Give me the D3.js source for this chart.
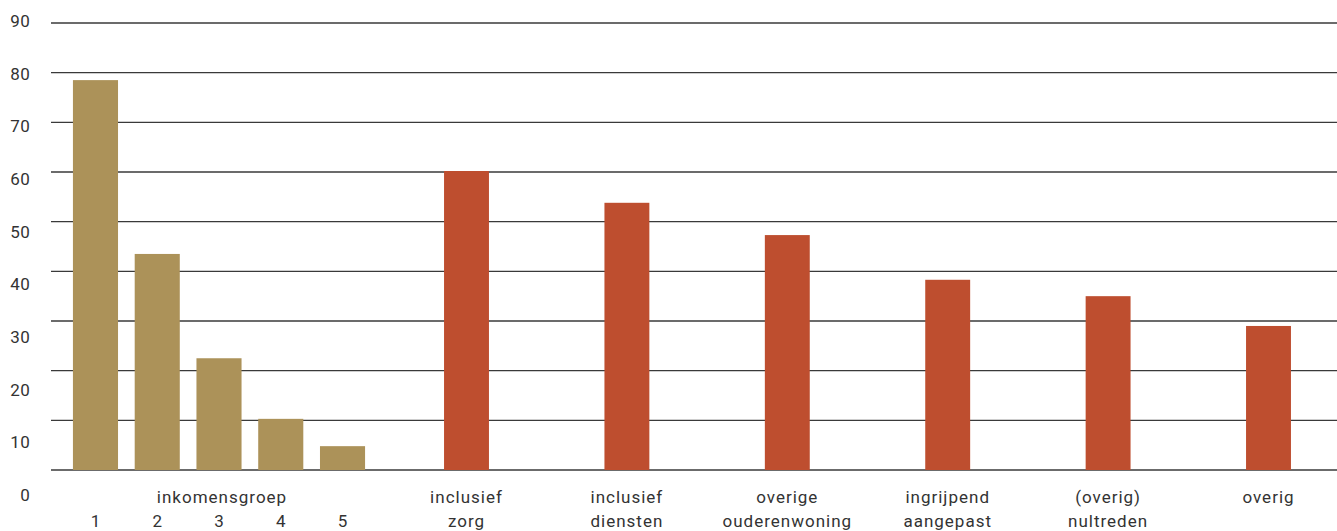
<!DOCTYPE html>
<html><head><meta charset="utf-8">
<script src="https://cdn.jsdelivr.net/npm/d3@7"></script>
<style>
html,body{margin:0;padding:0;background:#fff;}
text{font-family:Roboto,"DejaVu Sans",sans-serif;fill:#333;}
</style></head>
<body><svg id="c" width="1337" height="531"></svg>
<script>
const incomeGroups = ["1","2","3","4","5"];
const incomeValues = [78.5, 43.5, 22.5, 10.3, 4.8];
const typeCategories = ["inclusief zorg","inclusief diensten","overige ouderenwoning","ingrijpend aangepast","(overig) nultreden","overig"];
const typeLabels = [["inclusief","zorg"],["inclusief","diensten"],["overige","ouderenwoning"],["ingrijpend","aangepast"],["(overig)","nultreden"],["overig"]];
const typeValues = [60.2, 53.8, 47.3, 38.3, 35.0, 29.0];
const yTicks = [0,10,20,30,40,50,60,70,80,90];
const groupTitle = "inkomensgroep";

const svg = d3.select("#c");
const y = d3.scaleLinear().domain([0,90]).range([470,23]);
const yLabel = d3.scaleLinear().domain([0,90]).range([495,21]);
const xInc = d3.scaleBand().domain(incomeGroups).range([64.6,373.4]).paddingInner(0.27).paddingOuter(0.135);
const xType = d3.scaleBand().domain(typeCategories).range([386.3,1348.7]).paddingInner(0.72).paddingOuter(0.36);

// gridlines
svg.append("g").selectAll("line").data(yTicks).join("line")
  .attr("x1",51).attr("x2",1337)
  .attr("y1",d=>y(d)).attr("y2",d=>y(d))
  .attr("stroke","#3a3a3a").attr("stroke-width",1.4);

// y labels
svg.append("g").selectAll("text").data(yTicks).join("text")
  .attr("x",30).attr("y",d=>yLabel(d)).attr("dy","0.35em")
  .attr("text-anchor","end").attr("font-size",17).style("letter-spacing","0.3px")
  .text(d=>d);

// bars
svg.append("g").selectAll("rect").data(incomeValues).join("rect")
  .attr("x",(d,i)=>xInc(incomeGroups[i])).attr("width",xInc.bandwidth())
  .attr("y",d=>y(d)).attr("height",d=>y(0)-y(d)).attr("fill","#AC9259");
svg.append("g").selectAll("rect").data(typeValues).join("rect")
  .attr("x",(d,i)=>xType(typeCategories[i])).attr("width",xType.bandwidth())
  .attr("y",d=>y(d)).attr("height",d=>y(0)-y(d)).attr("fill","#BE4E2F");

// x labels
const incCenter = (xInc("1")+xInc("5")+xInc.bandwidth())/2 + 3;
svg.append("text").attr("x",incCenter).attr("y",503).attr("text-anchor","middle")
  .attr("font-size",17).style("letter-spacing","1px").text(groupTitle);
svg.append("g").selectAll("text").data(incomeGroups).join("text")
  .attr("x",d=>xInc(d)+xInc.bandwidth()/2).attr("y",527).attr("text-anchor","middle")
  .attr("font-size",17).text(d=>d);
const tl = svg.append("g").selectAll("text").data(typeCategories).join("text")
  .attr("x",d=>xType(d)+xType.bandwidth()/2).attr("text-anchor","middle")
  .attr("font-size",17).style("letter-spacing","1px");
tl.selectAll("tspan").data((d,i)=>typeLabels[i]).join("tspan")
  .attr("x",function(){return this.parentNode.getAttribute("x");})
  .attr("y",(d,j)=>503+j*24).text(d=>d);
</script></body></html>
